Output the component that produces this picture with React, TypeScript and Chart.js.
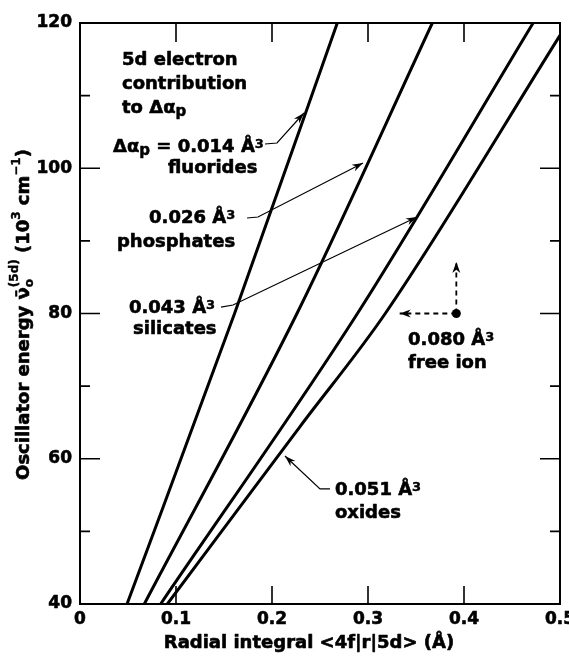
import React, { useEffect, useRef } from 'react';
import { Chart, registerables } from 'chart.js';

Chart.register(...registerables);

// ---- data ----
const fluoridesX = [0.049, 0.161, 0.268];
const fluoridesY = [40, 80, 120];
const phosphatesX = [0.067, 0.226, 0.367];
const phosphatesY = [40, 80, 120];
const silicatesX = [0.084, 0.289, 0.472];
const silicatesY = [40, 80, 120];
const oxidesX = [0.091, 0.229, 0.318, 0.5];
const oxidesY = [40, 64.4, 80, 118.3];
const freeIonX = [0.392];
const freeIonY = [80];

const xTickLabels = ['0', '0.1', '0.2', '0.3', '0.4', '0.5'];
const xInnerTicks = [0.1, 0.2, 0.3, 0.4];
const yTickLabels: Record<number, string> = { 40: '40', 60: '60', 80: '80', 100: '100', 120: '120' };
const yInnerTicks = [50, 60, 70, 80, 90, 100, 110];

const FONT = '"DejaVu Sans", "Liberation Sans", Arial, sans-serif';
const BASE = 18;
const EMB = 0.6; // slight emboldening stroke

type Run = { t: string; s?: number; dy?: number; same?: boolean };

const notes: { x: number; y: number; runs: Run[] }[] = [
  { x: 0.04375, y: 114.22, runs: [{ t: '5d electron' }] },
  { x: 0.04375, y: 110.91, runs: [{ t: 'contribution' }] },
  { x: 0.04375, y: 107.61, runs: [{ t: 'to Δα' }, { t: 'p', s: 15, dy: 3 }] },
  { x: 0.0344, y: 102.24, runs: [{ t: 'Δα' }, { t: 'p', s: 15, dy: 3 }, { t: ' = 0.014 Å' }, { t: '3', s: 13, dy: -4 }] },
  { x: 0.0917, y: 99.35, runs: [{ t: 'fluorides' }] },
  { x: 0.0719, y: 92.46, runs: [{ t: '0.026 Å' }, { t: '3', s: 13, dy: -4 }] },
  { x: 0.0385, y: 89.16, runs: [{ t: 'phosphates' }] },
  { x: 0.051, y: 80.07, runs: [{ t: '0.043 Å' }, { t: '3', s: 13, dy: -4 }] },
  { x: 0.0552, y: 77.18, runs: [{ t: 'silicates' }] },
  { x: 0.3417, y: 75.66, runs: [{ t: '0.080 Å' }, { t: '3', s: 13, dy: -4 }] },
  { x: 0.3417, y: 72.5, runs: [{ t: 'free ion' }] },
  { x: 0.2656, y: 55.01, runs: [{ t: '0.051 Å' }, { t: '3', s: 13, dy: -4 }] },
  { x: 0.2656, y: 51.84, runs: [{ t: 'oxides' }] },
];

// leader arrows: polyline in data coordinates, last point is the tip
const leaders: [number, number][][] = [
  [[0.1927, 103.34], [0.2052, 103.48], [0.2333, 107.61]],
  [[0.174, 93.15], [0.1854, 93.29], [0.2948, 100.72]],
  [[0.1469, 80.89], [0.1594, 81.17], [0.351, 93.29]],
  [[0.2604, 55.84], [0.25, 55.84], [0.2135, 60.38]],
];
const dashedArrows: [number, number][][] = [
  [[0.392, 80], [0.392, 87.1]],
  [[0.392, 80], [0.333, 80]],
];

const yTitle: Run[] = [
  { t: 'Oscillator energy ' },
  { t: 'ν̄' },
  { t: 'o', s: 12, dy: 4 },
  { t: '(5d)', s: 12, dy: -11, same: true },
  { t: ' (10' },
  { t: '3', s: 12, dy: -9 },
  { t: ' cm' },
  { t: '−1', s: 12, dy: -9 },
  { t: ')' },
];
const xTitle = 'Radial integral <4f|r|5d> (Å)';

function setFont(ctx: CanvasRenderingContext2D, size: number) {
  ctx.font = `bold ${size}px ${FONT}`;
}

function boldText(ctx: CanvasRenderingContext2D, t: string, x: number, y: number, size: number) {
  ctx.fillText(t, x, y);
  ctx.lineWidth = EMB * (size / BASE);
  ctx.strokeText(t, x, y);
}

function runsWidth(ctx: CanvasRenderingContext2D, runs: Run[]) {
  let cx = 0;
  let lastStart = 0;
  for (const r of runs) {
    setFont(ctx, r.s ?? BASE);
    const start = r.same ? lastStart : cx;
    const w = ctx.measureText(r.t).width;
    if (!r.same) lastStart = start;
    cx = Math.max(cx, start + w);
  }
  return cx;
}

function drawRuns(ctx: CanvasRenderingContext2D, runs: Run[], x: number, y: number) {
  let cx = x;
  let lastStart = x;
  ctx.textAlign = 'left';
  ctx.textBaseline = 'alphabetic';
  ctx.lineJoin = 'round';
  for (const r of runs) {
    const size = r.s ?? BASE;
    setFont(ctx, size);
    const start = r.same ? lastStart : cx;
    boldText(ctx, r.t, start, y + (r.dy ?? 0), size);
    const w = ctx.measureText(r.t).width;
    if (!r.same) lastStart = start;
    cx = Math.max(cx, start + w);
  }
}

function arrowHead(ctx: CanvasRenderingContext2D, fx: number, fy: number, tx: number, ty: number, len = 11, half = 3.6) {
  const a = Math.atan2(ty - fy, tx - fx);
  const c = Math.cos(a);
  const s = Math.sin(a);
  ctx.beginPath();
  ctx.moveTo(tx, ty);
  ctx.lineTo(tx - len * c + half * s, ty - len * s - half * c);
  ctx.lineTo(tx - 0.7 * len * c, ty - 0.7 * len * s);
  ctx.lineTo(tx - len * c - half * s, ty - len * s + half * c);
  ctx.closePath();
  ctx.fill();
}

const decorPlugin = {
  id: 'decor',
  afterDatasetsDraw(chart: any) {
    const ctx: CanvasRenderingContext2D = chart.ctx;
    const xs = chart.scales.x;
    const ys = chart.scales.y;
    const { left, right, top, bottom } = chart.chartArea;
    const px = (v: number) => xs.getPixelForValue(v);
    const py = (v: number) => ys.getPixelForValue(v);
    ctx.save();
    ctx.strokeStyle = '#000';
    ctx.fillStyle = '#000';

    // frame
    ctx.lineWidth = 2;
    ctx.strokeRect(left, top, right - left, bottom - top);

    // inner ticks
    ctx.lineWidth = 1.6;
    ctx.beginPath();
    for (const v of yInnerTicks) {
      const y = py(v);
      const len = v % 20 === 0 ? 20 : 10;
      ctx.moveTo(left, y);
      ctx.lineTo(left + len, y);
      ctx.moveTo(right, y);
      ctx.lineTo(right - len, y);
    }
    for (const v of xInnerTicks) {
      const x = px(v);
      ctx.moveTo(x, bottom);
      ctx.lineTo(x, bottom - 18);
      ctx.moveTo(x, top);
      ctx.lineTo(x, top + 19);
    }
    ctx.stroke();

    // leaders
    ctx.lineWidth = 1.2;
    for (const pts of leaders) {
      ctx.beginPath();
      pts.forEach(([a, b], i) => (i === 0 ? ctx.moveTo(px(a), py(b)) : ctx.lineTo(px(a), py(b))));
      ctx.stroke();
      const n = pts.length;
      arrowHead(ctx, px(pts[n - 2][0]), py(pts[n - 2][1]), px(pts[n - 1][0]), py(pts[n - 1][1]));
    }

    // dashed arrows from free ion point
    ctx.lineWidth = 1.8;
    for (const pts of dashedArrows) {
      const [fx, fy] = [px(pts[0][0]), py(pts[0][1])];
      const [tx, ty] = [px(pts[1][0]), py(pts[1][1])];
      ctx.setLineDash([5, 4]);
      ctx.beginPath();
      ctx.moveTo(fx, fy);
      ctx.lineTo(tx, ty);
      ctx.stroke();
      ctx.setLineDash([]);
      arrowHead(ctx, fx, fy, tx, ty, 11, 4);
    }

    // annotation text
    for (const n of notes) drawRuns(ctx, n.runs, px(n.x), py(n.y));

    // x title
    setFont(ctx, BASE);
    ctx.textAlign = 'center';
    ctx.textBaseline = 'alphabetic';
    boldText(ctx, xTitle, (left + right) / 2 - 11, bottom + 44, BASE);

    // y title (rotated)
    const w = runsWidth(ctx, yTitle);
    ctx.translate(left - 51, (top + bottom) / 2 + 1);
    ctx.rotate(-Math.PI / 2);
    drawRuns(ctx, yTitle, -w / 2, 0);
    ctx.restore();
  },
};

const line = (xs: number[], ys: number[]) => ({
  data: xs.map((x, i) => ({ x, y: ys[i] })),
  showLine: true,
  borderColor: '#000',
  borderWidth: 3,
  pointRadius: 0,
  fill: false,
  cubicInterpolationMode: 'monotone' as const,
});

export default function App() {
  const ref = useRef<HTMLCanvasElement>(null);
  useEffect(() => {
    const tickFont = { family: FONT, weight: 'bold' as const, size: 17 };
    const chart = new Chart(ref.current!, {
      type: 'scatter',
      data: {
        datasets: [
          line(fluoridesX, fluoridesY) as any,
          line(phosphatesX, phosphatesY) as any,
          line(silicatesX, silicatesY) as any,
          line(oxidesX, oxidesY) as any,
          {
            data: freeIonX.map((x, i) => ({ x, y: freeIonY[i] })),
            showLine: false,
            pointRadius: 4.5,
            backgroundColor: '#000',
            borderColor: '#000',
            borderWidth: 0,
          },
        ],
      },
      options: {
        animation: false,
        responsive: false,
        events: [],
        layout: { padding: { top: 23, right: 9, left: 0, bottom: 0 } },
        plugins: { legend: { display: false }, tooltip: { enabled: false } },
        scales: {
          x: {
            type: 'linear',
            min: 0,
            max: 0.5,
            grid: { display: false, drawTicks: false },
            border: { display: false },
            ticks: {
              stepSize: 0.1,
              padding: 5,
              color: '#000',
              textStrokeColor: '#000',
              textStrokeWidth: 0.6,
              font: tickFont,
              maxRotation: 0,
              callback: (v: any) => xTickLabels[Math.round(Number(v) * 10)] ?? '',
            },
            afterFit: (s: any) => {
              s.height = 52;
              s.paddingLeft = 0;
              s.paddingRight = 0;
            },
          },
          y: {
            type: 'linear',
            min: 40,
            max: 120,
            grid: { display: false, drawTicks: false },
            border: { display: false },
            ticks: {
              stepSize: 20,
              padding: 8,
              color: '#000',
              textStrokeColor: '#000',
              textStrokeWidth: 0.6,
              font: tickFont,
              callback: (v: any) => yTickLabels[Math.round(Number(v))] ?? '',
            },
            afterFit: (s: any) => {
              s.width = 80;
              s.paddingTop = 0;
              s.paddingBottom = 0;
            },
          },
        },
      },
      plugins: [decorPlugin],
    });
    return () => chart.destroy();
  }, []);
  return (
    <div style={{ position: 'absolute', left: 0, top: 0, width: 569, height: 656, background: '#fff' }}>
      <canvas ref={ref} width={569} height={656} style={{ display: 'block', width: 569, height: 656 }} />
    </div>
  );
}
